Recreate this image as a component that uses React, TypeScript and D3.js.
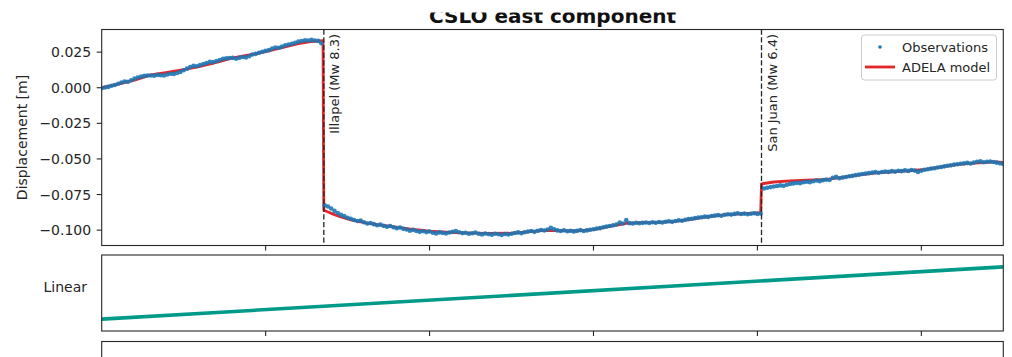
import React from 'react';
import * as d3 from 'd3';

// GNSS station CSLO, east component, values in mm (axis shows metres)
const obsStep = 0.04;

const obsPreStart = 2013.0;
const obsPre = [
  -0.4, 0.2, 0.6, 1.4, 1.9, 2.8, 3.6, 4.4, 4.2, 5.3,
  6.4, 7.2, 7.8, 8.3, 8.6, 8.6, 8.4, 9.0, 8.8, 8.6,
  9.3, 9.8, 9.6, 10.4, 11.0, 12.3, 13.4, 14.6, 15.4, 15.1,
  16.0, 16.6, 17.3, 18.2, 18.0, 18.8, 19.4, 20.3, 20.6, 20.9,
  21.0, 20.4, 21.0, 21.6, 21.2, 22.2, 23.3, 23.8, 24.6, 25.2,
  25.9, 26.4, 27.5, 28.3, 28.0, 28.9, 29.8, 30.4, 30.9, 31.6,
  32.4, 32.8, 33.4, 33.1, 33.6, 33.2, 32.9, 31.2,
];

const obsPostStart = 2015.72;
const obsPost = [
  -82.6, -83.4, -84.8, -86.5, -88.0, -89.3, -90.1, -91.4, -92.0, -92.9,
  -93.6, -93.2, -94.5, -95.4, -95.0, -95.8, -96.6, -96.1, -97.0, -97.6,
  -97.1, -98.0, -98.6, -98.2, -99.1, -99.6, -100.4, -99.8, -100.6, -101.2,
  -100.7, -101.4, -101.0, -101.8, -102.3, -101.6, -101.9, -102.4, -101.7, -101.2,
  -100.6, -101.5, -102.1, -101.8, -102.6, -102.2, -101.7, -102.5, -103.0, -102.4,
  -102.8, -103.2, -102.6, -102.9, -103.4, -102.7, -103.1, -102.5, -102.0, -101.6,
  -102.2, -101.5, -101.0, -100.6, -101.2, -100.4, -99.9, -100.3, -99.6, -98.4,
  -99.4, -100.2, -100.6, -100.1, -100.8, -100.4, -100.9, -100.5, -100.0, -100.6,
  -100.2, -99.7, -99.4, -98.9, -98.6, -98.0, -97.5, -97.1, -96.6, -96.0,
  -94.6, -95.3, -93.0, -95.1, -95.4, -94.8, -95.2, -94.9, -94.6, -95.0,
  -94.5, -94.8, -94.3, -94.6, -94.1, -93.8, -94.2, -93.6, -93.1, -93.4,
  -92.8, -92.3, -92.0, -91.6, -91.2, -91.0, -90.5, -90.7, -90.1, -89.8,
  -89.5, -89.9, -89.2, -88.8, -89.1, -88.6, -88.2, -88.7, -88.4, -88.9,
  -88.5, -88.1, -88.6, -88.3,
];

const obsSanJuanStart = 2021.08;
const obsSanJuan = [
  -70.8, -70.2, -69.8, -69.4, -69.0, -68.6, -68.9, -68.1, -67.5, -67.2,
  -66.8, -67.0, -66.4, -66.0, -66.3, -65.7, -65.2, -65.6, -64.9, -64.5,
  -64.8, -63.2, -62.6, -63.6, -63.1, -62.7, -62.2, -61.9, -61.4, -61.0,
  -60.6, -60.3, -60.0, -59.6, -59.3, -59.7, -59.2, -58.8, -59.1, -58.6,
  -58.9, -58.3, -58.6, -58.0, -58.4, -57.8, -58.2, -59.1, -58.3, -57.6,
  -57.2, -56.8, -56.5, -56.0, -55.7, -55.2, -54.8, -54.5, -54.0, -53.7,
  -53.4, -53.1, -52.8, -53.2, -52.5, -52.0, -51.6, -52.3, -52.0, -51.8,
  -52.2, -52.6, -53.1, -53.5,
];

// ADELA model vertices
const modelYears = [
  2013.0, 2013.2, 2013.4, 2013.6, 2013.8, 2014.0, 2014.2, 2014.4, 2014.6, 2014.8,
  2015.0, 2015.2, 2015.4, 2015.55, 2015.7,
  2015.71, 2015.8, 2015.9, 2016.05, 2016.25, 2016.5, 2016.75, 2017.0, 2017.3, 2017.7,
  2018.0, 2018.2, 2018.4, 2018.6, 2018.8, 2019.0, 2019.2, 2019.4, 2019.6, 2019.8,
  2020.0, 2020.2, 2020.4, 2020.6, 2020.8, 2021.04,
  2021.05, 2021.2, 2021.4, 2021.6, 2021.85, 2022.05, 2022.25, 2022.45, 2022.65, 2022.85,
  2023.05, 2023.25, 2023.45, 2023.7, 2023.9, 2024.0,
];
const modelValues = [
  0.0, 2.6, 5.4, 9.0, 10.8, 12.8, 15.0, 17.8, 21.0, 23.0,
  25.4, 28.2, 30.9, 32.4, 33.0,
  -86.0, -88.2, -90.4, -93.0, -95.3, -97.2, -99.2, -100.8, -101.8, -102.3,
  -102.2, -101.3, -100.2, -100.4, -100.6, -99.6, -97.4, -95.3, -94.8, -94.5,
  -93.8, -92.2, -90.5, -89.3, -88.6, -87.8,
  -67.5, -66.2, -65.4, -64.9, -64.3, -62.8, -61.2, -59.8, -59.0, -58.3,
  -57.3, -55.6, -53.8, -52.7, -52.0, -52.4,
];

// linear trend component (m)
const linearYears = [2013.0, 2024.0];
const linearValues = [-0.066, 0.066];

const eventYears = [2015.71, 2021.05];
const eventNames = ['Illapel (Mw 8.3)', 'San Juan (Mw 6.4)'];

const yearTicks = [2015, 2017, 2019, 2021, 2023];
const dispTicks = [-100, -75, -50, -25, 0, 25];

const FONT = '"DejaVu Sans", sans-serif';
const INK = '#262626';

export default function App() {
  const W = 1012;
  const H = 357;
  const left = 101.7;
  const right = 1003.3;
  const p1 = { top: 29.5, bottom: 245.5 };
  const p2 = { top: 255, bottom: 331 };
  const p3 = { top: 341.5, bottom: 420 };

  const x = d3.scaleLinear().domain([2013, 2024]).range([left, right]);
  const y1 = d3.scaleLinear().domain([-110.8, 40.9]).range([p1.bottom, p1.top]);
  const y2 = d3.scaleLinear().domain([-0.096, 0.096]).range([p2.bottom, p2.top]);

  const obs: { t: number; v: number }[] = [];
  [
    { start: obsPreStart, values: obsPre },
    { start: obsPostStart, values: obsPost },
    { start: obsSanJuanStart, values: obsSanJuan },
  ].forEach(seg => {
    seg.values.forEach((v, i) => obs.push({ t: seg.start + i * obsStep, v }));
  });

  const modelLine = d3.line<number>()
    .x((_, i) => x(modelYears[i]))
    .y(d => y1(d))(modelValues) || '';

  const linearLine = d3.line<number>()
    .x((_, i) => x(linearYears[i]))
    .y(d => y2(d))(linearValues) || '';

  const fmt = (v: number) => {
    const s = Math.abs(v / 1000).toFixed(3);
    return v < 0 ? '\u2212' + s : s;
  };

  const frame = (top: number, bottom: number) => (
    <rect x={left} y={top} width={right - left} height={bottom - top}
      fill="none" stroke={INK} strokeWidth={1.1} />
  );

  const xTickMarks = (yPos: number) => yearTicks.map(t => (
    <line key={t} x1={x(t)} x2={x(t)} y1={yPos} y2={yPos + 5} stroke={INK} strokeWidth={1.1} />
  ));

  return (
    <div style={{ position: 'absolute', left: 0, top: 0, width: W, height: H, background: '#fff' }}>
      <svg width={W} height={H} style={{ display: 'block', fontFamily: FONT }}>
        <defs>
          <clipPath id="clip1">
            <rect x={left} y={p1.top} width={right - left} height={p1.bottom - p1.top} />
          </clipPath>
          <clipPath id="clip2">
            <rect x={left} y={p2.top} width={right - left} height={p2.bottom - p2.top} />
          </clipPath>
        </defs>

        {/* title, its top is cropped in the reference */}
        <text x={(left + right) / 2} y={22.5} textAnchor="middle" fontSize={20}
          fontWeight="bold" fill="#111">CSLO east component</text>
        <rect x={0} y={0} width={W} height={12.5} fill="#fff" />

        {/* panel 1 */}
        <g clipPath="url(#clip1)">
          <path d={modelLine} fill="none" stroke="#e3262a" strokeWidth={2.8} strokeLinejoin="round" />
          {obs.map((d, i) => (
            <circle key={i} cx={x(d.t)} cy={y1(d.v)} r={2.3} fill="#1f77b4" fillOpacity={0.9} />
          ))}
        </g>
        {eventYears.map((t, i) => (
          <g key={t}>
            <line x1={x(t)} x2={x(t)} y1={p1.top} y2={p1.bottom} stroke={INK}
              strokeWidth={1.3} strokeDasharray="5.3,2.4" />
            <text transform={`translate(${x(t) + 15.5},${p1.top + 4.5}) rotate(-90)`}
              textAnchor="end" fontSize={13} fill={INK}>{eventNames[i]}</text>
          </g>
        ))}
        {frame(p1.top, p1.bottom)}
        {dispTicks.map(v => (
          <g key={v}>
            <line x1={left - 5} x2={left} y1={y1(v)} y2={y1(v)} stroke={INK} strokeWidth={1.1} />
            <text x={left - 10.5} y={y1(v)} dy="0.36em" textAnchor="end" fontSize={14} fill={INK}>{fmt(v)}</text>
          </g>
        ))}
        {xTickMarks(p1.bottom)}
        <text transform={`translate(27,${(p1.top + p1.bottom) / 2}) rotate(-90)`}
          textAnchor="middle" fontSize={14} fill={INK}>Displacement [m]</text>

        {/* legend */}
        <g>
          <rect x={861.5} y={35} width={135} height={45} rx={3} fill="#fff"
            fillOpacity={0.8} stroke="#cccccc" strokeWidth={1} />
          <circle cx={880} cy={47} r={1.8} fill="#1f77b4" />
          <text x={902} y={51.5} fontSize={13} fill={INK}>Observations</text>
          <line x1={865} x2={895} y1={67} y2={67} stroke="#e3262a" strokeWidth={2.8} />
          <text x={902} y={71.5} fontSize={13} fill={INK}>ADELA model</text>
        </g>

        {/* panel 2 */}
        <g clipPath="url(#clip2)">
          <path d={linearLine} fill="none" stroke="#009a89" strokeWidth={3.6} />
        </g>
        {frame(p2.top, p2.bottom)}
        {xTickMarks(p2.bottom)}
        <text x={87} y={291.5} textAnchor="end" fontSize={14} fill={INK}>Linear</text>

        {/* panel 3 (cut off) */}
        {frame(p3.top, p3.bottom)}
      </svg>
    </div>
  );
}
